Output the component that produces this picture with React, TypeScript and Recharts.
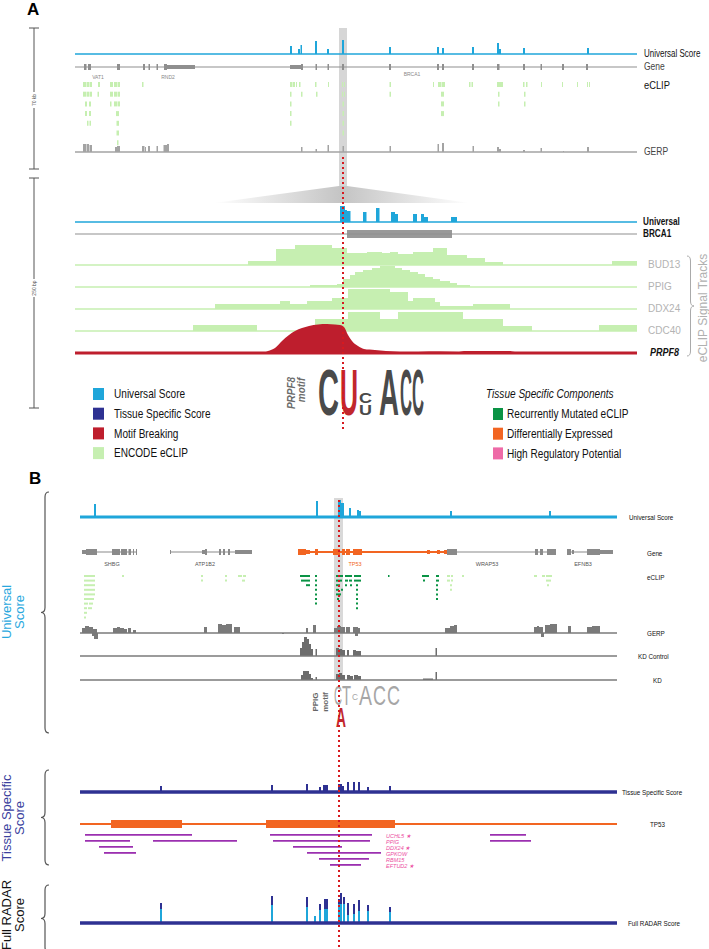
import React from 'react';
import { ComposedChart, Area, Line, XAxis, YAxis, ReferenceArea } from 'recharts';

// track positions; panel A spans 70 kb, panel B the TP53 locus
const A_DOM: [number, number] = [75, 637];
const B_DOM: [number, number] = [80, 617];

// ---- panel A, 70 kb view: [start, end, height]
const UNI_A = [[290, 292, 8], [298, 300, 5], [300.5, 302, 9], [315, 317, 13], [327, 329, 5], [342, 344, 14], [389, 391, 7], [437, 439, 7], [442, 444, 6], [472, 474, 7], [497, 499, 11], [499, 501, 5], [523, 525, 6], [587, 589, 6]];
// exon [start, end, coding(1)/utr(0)]
const GENE_A_EXONS = [[84, 86.5, 1], [88, 91, 1], [117, 120, 1], [143, 145, 1], [148.5, 150, 1], [156.5, 158, 1], [164, 167, 1], [167, 195, 0], [290, 301, 0], [301, 303, 1], [315.5, 317, 1], [327.5, 329, 1], [342, 344, 1], [389, 391, 1], [437, 439, 1], [442, 444, 1], [472, 474, 1], [497, 499.5, 1], [523, 525, 1], [540.5, 542, 1], [562, 564, 1], [586, 588, 1]];
const GENE_A_NAMES: [string, number][] = [['VAT1', 98], ['RND2', 168], ['BRCA1', 412]];
const ECLIP_A: number[][][] = [
  [[83, 86], [86.5, 89], [89.5, 92], [98, 100], [110, 113], [114, 117], [117.5, 120], [142, 143.5], [290, 292.5], [293, 295], [296, 297], [299, 300.5], [315, 316.5], [328, 329], [342, 343], [344, 345], [389.5, 391], [433, 434], [438, 441], [441.5, 445], [469, 470.5], [471.5, 473], [497, 503], [523, 524.5], [526, 527.5], [541, 542], [562, 563], [577, 578], [587, 588], [589, 590]],
  [[83, 86], [86.5, 89], [89.5, 92], [97.5, 99], [110, 113], [114, 117], [117.5, 120], [290, 291.5], [301, 302.5], [316, 317.5], [342, 343], [344, 345], [389.5, 391], [441, 444], [498, 499.5], [524, 525.5]],
  [[85, 87], [89, 91], [110, 111.5], [114, 117], [117.5, 120], [290, 291.5], [342.5, 344], [441, 444], [498, 499.5], [524, 525.5]],
  [[85, 87], [89, 91], [116, 119], [290, 291.5], [342.5, 344], [441, 444]],
  [[87, 88.5], [89.5, 91], [116.5, 119], [290, 291.5], [342.5, 344]],
  [[116.5, 119], [342.5, 344]],
  [[117, 118.5]],
];
const GERP_A = [[83, 86, 8], [86.5, 89, 8], [89.5, 92, 7], [115, 117, 5], [117, 120, 6], [142, 144.5, 6], [145, 146, 5], [148, 150, 6], [156.5, 158, 6], [163.5, 167, 7], [167, 169, 8], [301, 302.5, 5], [315.5, 317, 3], [327.5, 329, 7], [342.5, 344, 6], [389.5, 391, 6], [437.5, 439, 8], [442, 444, 9], [472.5, 474, 6], [497, 499, 5], [499, 501, 3], [523, 525, 2], [540.5, 542, 4], [563, 564, 1], [587, 589, 5]];

// ---- panel A, 250 bp view
const UNI_A2 = [[340, 345, 16], [345, 347, 12], [347, 350.5, 11], [363, 366.5, 10], [376, 379.5, 14], [391, 395, 10], [395, 398, 8], [413, 417, 8], [421, 424, 8], [424, 428, 5], [451, 457, 5]];
const BRCA1_BOX = [347, 452];
// bedGraph style: [position, signal]
const BUD13 = [[75, 0], [248, 4], [276, 16], [295, 20], [332, 17], [347, 12], [367, 13], [382, 12], [390, 13], [398, 11], [413, 13], [433, 17], [447, 10], [467, 7], [485, 3], [503, 0], [612, 4], [637, 4]];
const PPIG = [[75, 0], [310, 2], [337, 3], [343, 8], [350, 12], [355, 15], [363, 17], [372, 19], [380, 21], [395, 19], [402, 17], [410, 15], [418, 13], [425, 10], [433, 8], [440, 6], [450, 4], [457, 2], [470, 0], [637, 0]];
const DDX24 = [[75, 0], [215, 5], [280, 8], [290, 5], [307, 8], [332, 11], [348, 20], [390, 17], [408, 8], [413, 11], [435, 7], [440, 3], [473, 5], [510, 0], [637, 0]];
const CDC40 = [[75, 0], [193, 6], [257, 0], [315, 12], [348, 19], [380, 12], [398, 19], [463, 12], [503, 5], [532, 0], [599, 6], [637, 6]];
const PRPF8 = [[75, 0], [100, 1], [168, 1], [172, 0], [262, 0], [268, 2], [275, 5], [282, 12], [289, 18], [295, 22], [302, 25], [309, 27], [318, 28.5], [327, 29], [335, 28.5], [340, 28], [344, 26], [348, 18], [352, 12], [358, 7], [364, 4], [375, 3], [386, 2], [400, 1], [412, 0.5], [418, 1], [440, 1.5], [459, 1], [464, 2], [509, 2], [515, 1], [530, 0], [637, 0]];
const SIGNAL_TRACKS: [string, number[][]][] = [['BUD13', BUD13], ['PPIG', PPIG], ['DDX24', DDX24], ['CDC40', CDC40]];

// ---- panel B
const UNI_B = [[94, 96, 13], [316, 318, 16], [338, 341, 17], [341, 344, 14], [349, 351, 9], [357, 359, 7], [359, 361, 6], [450, 452, 6], [549, 551, 6]];
const GENES_B = [
  { name: 'SHBG', span: [82, 137], labelAt: 112, exons: [[82, 86, 0], [86, 97, 1], [112, 120, 1], [121, 127, 1], [128.5, 131, 1], [133, 134, 1], [136, 137, 1]] },
  { name: 'ATP1B2', span: [170, 252], labelAt: 205, exons: [[170, 171, 0], [202, 205, 0], [205, 207, 1], [219, 221, 1], [223, 225, 1], [228, 230, 1], [235, 252, 0]] },
  { name: 'TP53', span: [298, 447], labelAt: 355, exons: [[298, 306, 1], [306, 310, 0], [315, 318, 1], [333, 340, 1], [342, 345, 1], [346, 350, 1], [353, 362, 1], [427, 430, 0], [437, 440, 0], [444, 447, 0]] },
  { name: 'WRAP53', span: [447, 556], labelAt: 487, exons: [[447, 457, 1], [535, 538, 1], [540, 543, 1], [547, 556, 1]] },
  { name: 'EFNB3', span: [567, 613], labelAt: 583, exons: [[567, 571, 1], [572, 574, 0], [587, 600, 1], [600, 613, 0]] },
];
const FOCUS_GENE = 'TP53';
const ECLIP_B_OTHER: number[][][] = [
  [[84, 95], [122, 124], [201, 203], [225, 227], [238, 242], [243, 246], [447, 450], [451, 453], [462, 464], [534, 537], [542, 545], [546, 552]],
  [[84, 95], [201, 203], [225, 227], [242, 245], [447, 450], [451, 453], [546, 551]],
  [[84, 95], [450, 452], [547, 549]],
  [[84, 95], [450, 452]],
  [[84, 95]],
  [[84, 94]],
  [[84, 88], [89, 93]],
  [[84, 87], [88, 92]],
  [[84, 87]],
  [[84, 86]],
];
const ECLIP_B_MUT: number[][][] = [
  [[300, 310], [315, 317], [336, 343], [345, 352], [354, 361], [388, 389.5], [422, 429], [436, 439]],
  [[301, 310], [315, 317], [336, 342], [345, 348], [349, 352], [354, 361], [423, 425], [436, 439]],
  [[306, 310], [315, 317], [336, 340], [345, 347], [350, 352], [356, 358], [436, 438]],
  [[315, 317], [336, 339], [341, 343], [356, 358], [436, 438]],
  [[315, 317], [336, 341], [356, 358], [436, 438]],
  [[315, 317], [337, 339], [356, 358], [436, 438]],
  [[315, 317], [356, 358]],
  [[356, 358]],
];
const GERP_B_POS = [[82, 85, 5], [85, 89, 7], [89, 93, 6], [93, 97, 4], [113, 117, 5], [117, 120, 6], [120, 124, 5], [124, 127, 4], [128, 131, 5], [133, 136, 3], [204, 207, 6], [218, 222, 9], [222, 226, 8], [226, 232, 9], [234, 240, 6], [306, 308, 5], [313, 316, 8], [334, 337, 5], [337, 341, 7], [341, 345, 6], [346, 350, 6], [353, 358, 6], [358, 360, 5], [445, 450, 5], [450, 454, 7], [454, 457, 8], [534, 537, 6], [537, 539, 7], [539, 543, 6], [545, 550, 8], [550, 557, 9], [568, 571, 7], [587, 592, 6], [592, 600, 7]];
const GERP_B_NEG = [[92, 94, -3], [94, 98, -6], [282, 284, -1], [355, 358, -3], [541, 544, -4]];
const KD_CONTROL = [[300, 302, 8], [302, 304, 14], [304, 307, 19], [307, 309, 17], [309, 311, 12], [311, 313, 7], [315.5, 317, 7], [336, 339, 8], [339, 342, 7], [342, 345, 6], [347, 349, 6], [353, 356, 6], [356, 358, 5], [358, 361, 5], [435.5, 437, 8]];
const KD = [[301, 303, 5], [303, 306, 9], [306, 309, 9], [309, 311, 6], [311, 313, 2], [315.5, 317, 3], [336, 339, 6], [339, 342, 7], [342, 345, 5], [347, 350, 5], [350, 353, 4], [354, 358, 5], [358, 361, 4], [423, 433, 1.5], [435.5, 437, 8]];
const TISSUE = [[160, 162, 6], [271, 273, 7], [306, 308, 8], [319, 321, 5], [323, 328, 7], [338, 342, 8], [342, 344, 6], [347, 349, 10], [353, 355, 10], [358, 360, 10], [367, 369, 5], [389, 391, 6]];
const TP53_BLOCKS = [[111, 182], [266, 395]];
const RBP_NAMES = ['UCHL5', 'PPIG', 'DDX24', 'GPKOW', 'RBM15', 'EFTUD2'];
const RBP_STARRED = ['UCHL5', 'DDX24', 'EFTUD2'];
const RBP_PEAKS: number[][][] = [
  [[85, 192], [270, 372], [490, 526]],
  [[85, 130], [153, 237], [273, 370], [490, 531]],
  [[99, 133], [293, 342]],
  [[104, 136], [307, 381]],
  [[319, 369]],
  [[330, 361]],
];
const RADAR_TOTAL = [[160, 162, 20], [271, 273, 27], [306, 308, 26], [314, 316, 7], [319, 321, 19], [324, 328, 24], [338, 340, 24], [340, 342, 30], [343, 345, 26], [347, 349, 20], [353, 355, 19], [358, 360, 23], [367, 369, 18], [389, 391, 16]];
const RADAR_UNIVERSAL = [[160, 162, 14], [271, 273, 18], [306, 308, 16], [314, 316, 7], [319, 321, 13], [324, 328, 14], [338, 340, 19], [340, 342, 19], [343, 345, 19], [347, 349, 8], [353, 355, 9], [358, 360, 12], [367, 369, 12], [389, 391, 11]];

const LEGEND_LEFT: [string, string][] = [['Universal Score', '#1fa6da'], ['Tissue Specific Score', '#2e3192'], ['Motif Breaking', '#be1e2d'], ['ENCODE eCLIP', '#c6efb1']];
const LEGEND_RIGHT: [string, string][] = [['Recurrently Mutated eCLIP', '#0a9345'], ['Differentially Expressed', '#f26522'], ['High Regulatory Potential', '#ee6aa7']];

const CYAN = '#1fa6da';
const NAVY = '#2e3192';
const RED = '#be1e2d';
const LGREEN = '#c6efb1';
const DGREEN = '#0a9345';
const ORANGE = '#f26522';
const PURPLE = '#9b30b0';
const GRAY = '#a3a3a3';
const DGRAY = '#7a7a7a';
const SANS = '"Liberation Sans",Arial,sans-serif';

function toSteps(iv: number[][], dom: [number, number]) {
  const pts = [{ x: dom[0], v: 0 }];
  iv.forEach(([a, b, h]) => pts.push({ x: a, v: h }, { x: b, v: 0 }));
  pts.push({ x: dom[1], v: 0 });
  return pts;
}
const pairs = (p: number[][]) => p.map(([x, v]) => ({ x, v }));

function Track({ dom, base, up, down, children }: any) {
  const width = dom[1] - dom[0];
  return (
    <div style={{ position: 'absolute', left: dom[0], top: base - up, width, height: up + down }}>
      <ComposedChart width={width} height={up + down} margin={{ top: 0, right: 0, bottom: 0, left: 0 }}>
        <XAxis type="number" dataKey="x" domain={dom} hide allowDataOverflow />
        <YAxis type="number" domain={[-down, up]} hide allowDataOverflow />
        {children}
      </ComposedChart>
    </div>
  );
}

const baseline = (dom: number[], color: string, w: number) => (
  <Line key="base" data={[{ x: dom[0], v: 0 }, { x: dom[1], v: 0 }]} dataKey="v" stroke={color} strokeWidth={w} dot={false} isAnimationActive={false} />
);
const steps = (key: string, pts: any[], color: string, type: any = 'stepAfter') => (
  <Area key={key} data={pts} dataKey="v" type={type} stroke="none" fill={color} fillOpacity={1} baseValue={0} isAnimationActive={false} />
);
const rowBlocks = (key: string, rows: number[][][], pitch: number, thick: number, color: string) =>
  rows.flatMap((row, i) => row.map(([a, b], j) => (
    <ReferenceArea key={`${key}${i}-${j}`} x1={a} x2={b} y1={-i * pitch} y2={-i * pitch - thick} fill={color} fillOpacity={1} stroke="none" />
  )));
const exonBlocks = (key: string, exons: number[][], color: string) =>
  exons.map(([a, b, coding], j) => (
    <ReferenceArea key={`${key}${j}`} x1={a} x2={b} y1={coding ? -3 : -2} y2={coding ? 3 : 2} fill={color} fillOpacity={1} stroke="none" />
  ));

function Glyph({ ch, x, bottom, w, h, color, bold = true }: any) {
  return (
    <text x={x} y={bottom} fontSize={h / 0.72} fontFamily={SANS} fontWeight={bold ? 'bold' : 'normal'} fill={color} textLength={w} lengthAdjust="spacingAndGlyphs">{ch}</text>
  );
}

function brace(xa: number, xt: number, y1: number, y2: number) {
  const xb = (xa + xt) / 2, m = (y1 + y2) / 2, r = 5;
  return `M${xa} ${y1} Q${xb} ${y1} ${xb} ${y1 + r} L${xb} ${m - r} Q${xb} ${m} ${xt} ${m} Q${xb} ${m} ${xb} ${m + r} L${xb} ${y2 - r} Q${xb} ${y2} ${xa} ${y2}`;
}

// sx < 1 squeezes the text horizontally to mimic the condensed face of the figure
function T({ x, y, s, size = 10, fill = '#111', weight = 'normal', italic = false, anchor = 'start', sx = 1 }: any) {
  return (
    <text transform={`translate(${x},${y}) scale(${sx},1)`} fontSize={size} fill={fill} fontFamily={SANS} fontWeight={weight} fontStyle={italic ? 'italic' : 'normal'} textAnchor={anchor} dominantBaseline="central">{s}</text>
  );
}

function Rot({ x, y, s, size, fill, weight = 'normal', italic = false }: any) {
  return (
    <text transform={`translate(${x},${y}) rotate(-90)`} fontSize={size} fill={fill} fontFamily={SANS} fontWeight={weight} fontStyle={italic ? 'italic' : 'normal'} textAnchor="middle">{s}</text>
  );
}

export default function App() {
  return (
    <div style={{ position: 'absolute', left: 0, top: 0, width: 709, height: 949, background: '#fff', overflow: 'hidden' }}>
      {/* highlight band and zoom wedge, behind the tracks */}
      <svg width={709} height={949} style={{ position: 'absolute', left: 0, top: 0 }}>
        <defs>
          <linearGradient id="wedge" x1="0" x2="1" y1="0" y2="0">
            <stop offset="0" stopColor="#ffffff" />
            <stop offset="0.5" stopColor="#c4c4c4" />
            <stop offset="1" stopColor="#ffffff" />
          </linearGradient>
        </defs>
        <rect x={339} y={28} width={8} height={160} fill="#d6d6d6" />
        <polygon points="339,186 347,186 470,203 214,203" fill="url(#wedge)" />
        <rect x={334} y={498} width={9} height={182} fill="#d9d9d9" />
      </svg>

      {/* panel A, 70 kb */}
      <Track dom={A_DOM} base={54} up={16} down={1.5}>
        {steps('u', toSteps(UNI_A, A_DOM), CYAN)}
        {baseline(A_DOM, CYAN, 1.6)}
      </Track>
      <Track dom={A_DOM} base={67} up={4} down={4}>
        {baseline(A_DOM, '#8f8f8f', 1.2)}
        {exonBlocks('ga', GENE_A_EXONS, '#8f8f8f')}
      </Track>
      <Track dom={A_DOM} base={81.5} up={0} down={66}>
        {baseline([A_DOM[0], A_DOM[0] + 0.1], '#fff', 0)}
        {rowBlocks('ea', ECLIP_A, 9.7, 5, LGREEN)}
      </Track>
      <Track dom={A_DOM} base={152} up={10} down={1.5}>
        {steps('g', toSteps(GERP_A, A_DOM), GRAY)}
        {baseline(A_DOM, GRAY, 1.6)}
      </Track>

      {/* panel A, 250 bp */}
      <Track dom={A_DOM} base={222} up={17} down={1.5}>
        {steps('u2', toSteps(UNI_A2, A_DOM), CYAN)}
        {baseline(A_DOM, CYAN, 1.6)}
      </Track>
      <Track dom={A_DOM} base={234} up={5} down={5}>
        {baseline(A_DOM, '#8f8f8f', 1)}
        <ReferenceArea x1={BRCA1_BOX[0]} x2={BRCA1_BOX[1]} y1={-4} y2={4} fill="#999" fillOpacity={1} stroke="none" />
      </Track>
      {SIGNAL_TRACKS.map(([name, d], i) => (
        <Track key={name} dom={A_DOM} base={265 + i * 22} up={22} down={1.5}>
          {steps(name, pairs(d), LGREEN)}
          {baseline(A_DOM, LGREEN, 1.6)}
        </Track>
      ))}
      <Track dom={A_DOM} base={353} up={31} down={2}>
        {steps('prpf8', pairs(PRPF8), RED, 'monotone')}
        {baseline(A_DOM, RED, 3)}
      </Track>

      {/* panel B */}
      <Track dom={B_DOM} base={517} up={18} down={2}>
        {steps('ub', toSteps(UNI_B, B_DOM), CYAN)}
        {baseline(B_DOM, CYAN, 3)}
      </Track>
      <Track dom={B_DOM} base={552} up={5} down={5}>
        {GENES_B.map((g) => (
          <Line key={g.name} data={[{ x: g.span[0], v: 0 }, { x: g.span[1], v: 0 }]} dataKey="v" stroke={g.name === FOCUS_GENE ? ORANGE : '#8a8a8a'} strokeWidth={g.name === FOCUS_GENE ? 1.8 : 1.2} dot={false} isAnimationActive={false} />
        ))}
        {GENES_B.flatMap((g) => exonBlocks(g.name, g.exons, g.name === FOCUS_GENE ? ORANGE : '#8a8a8a'))}
      </Track>
      <Track dom={B_DOM} base={575} up={0} down={46}>
        {baseline([B_DOM[0], B_DOM[0] + 0.1], '#fff', 0)}
        {rowBlocks('eo', ECLIP_B_OTHER, 4.6, 2, LGREEN)}
        {rowBlocks('em', ECLIP_B_MUT, 4.6, 2, DGREEN)}
      </Track>
      <Track dom={B_DOM} base={633} up={10} down={7}>
        {steps('gp', toSteps(GERP_B_POS, B_DOM), DGRAY)}
        {steps('gn', toSteps(GERP_B_NEG, B_DOM), DGRAY)}
        {baseline(B_DOM, DGRAY, 1.6)}
      </Track>
      <Track dom={B_DOM} base={656} up={20} down={1.5}>
        {steps('kc', toSteps(KD_CONTROL, B_DOM), '#6d6d6d')}
        {baseline(B_DOM, DGRAY, 1.6)}
      </Track>
      <Track dom={B_DOM} base={680} up={10} down={1.5}>
        {steps('kd', toSteps(KD, B_DOM), '#6d6d6d')}
        {baseline(B_DOM, DGRAY, 1.6)}
      </Track>
      <Track dom={B_DOM} base={792} up={11} down={2}>
        {steps('ts', toSteps(TISSUE, B_DOM), NAVY)}
        {baseline(B_DOM, NAVY, 3.5)}
      </Track>
      <Track dom={B_DOM} base={824} up={5} down={5}>
        {baseline(B_DOM, ORANGE, 1.8)}
        {TP53_BLOCKS.map(([a, b], j) => (
          <ReferenceArea key={`tp${j}`} x1={a} x2={b} y1={-4} y2={4} fill={ORANGE} fillOpacity={1} stroke="none" />
        ))}
      </Track>
      <Track dom={B_DOM} base={834} up={0} down={34}>
        {baseline([B_DOM[0], B_DOM[0] + 0.1], '#fff', 0)}
        {rowBlocks('rbp', RBP_PEAKS, 6, 1.8, PURPLE)}
      </Track>
      <Track dom={B_DOM} base={923} up={31} down={2.5}>
        {steps('rt', toSteps(RADAR_TOTAL, B_DOM), NAVY)}
        {steps('ru', toSteps(RADAR_UNIVERSAL, B_DOM), CYAN)}
        {baseline(B_DOM, NAVY, 3.5)}
      </Track>

      {/* text, brackets and guides on top */}
      <svg width={709} height={949} style={{ position: 'absolute', left: 0, top: 0, pointerEvents: 'none' }}>
        <T x={27} y={9} s="A" size={17} weight="bold" fill="#000" />
        <T x={29} y={478} s="B" size={17} weight="bold" fill="#000" />

        {/* scale bars */}
        <g stroke="#555" strokeWidth={1}>
          <line x1={34} x2={34} y1={28} y2={169} />
          <line x1={29} x2={39} y1={28} y2={28} />
          <line x1={29} x2={39} y1={169} y2={169} />
          <line x1={34} x2={34} y1={178} y2={408} />
          <line x1={29} x2={39} y1={178} y2={178} />
          <line x1={29} x2={39} y1={408} y2={408} />
        </g>
        <rect x={31} y={92} width={6} height={16} fill="#fff" />
        <rect x={31} y={279} width={6} height={18} fill="#fff" />
        <Rot x={36} y={100} s="70 kb" size={5} fill="#555" />
        <Rot x={36} y={288} s="250 bp" size={5} fill="#555" />

        {/* panel A labels */}
        <T x={644} y={54} s="Universal Score" size={10} sx={0.8} />
        <T x={644} y={67} s="Gene" size={10} fill="#444" sx={0.85} />
        <T x={644} y={85} s="eCLIP" size={11} sx={0.85} />
        <T x={644} y={152} s="GERP" size={10} fill="#444" sx={0.85} />
        {GENE_A_NAMES.map(([n, p]) => (
          <T key={n} x={p} y={n === 'BRCA1' ? 74 : 77} s={n} size={5} fill="#888" anchor="middle" />
        ))}
        <T x={643} y={222} s="Universal" size={10} weight="bold" sx={0.82} />
        <T x={643} y={234} s="BRCA1" size={10} weight="bold" sx={0.82} />
        {SIGNAL_TRACKS.map(([n], i) => (
          <T key={n} x={648} y={264 + i * 22} s={n} size={10} fill="#b3b3b3" />
        ))}
        <T x={650} y={352} s="PRPF8" size={10} weight="bold" italic sx={0.9} />
        <path d={brace(687, 694, 256, 356)} fill="none" stroke="#aaa" strokeWidth={1} />
        <Rot x={707} y={308} s="eCLIP Signal Tracks" size={12} fill="#b0b0b0" />

        {/* PRPF8 motif logo */}
        <Rot x={295} y={393} s="PRPF8" size={10} fill="#6b6b6b" weight="bold" italic />
        <Rot x={305} y={390} s="motif" size={10} fill="#6b6b6b" weight="bold" italic />
        <Glyph ch="C" x={318} bottom={415} w={21} h={47} color="#4a4a4a" />
        <Glyph ch="U" x={340} bottom={415} w={18} h={47} color="#c1272d" />
        <Glyph ch="C" x={359} bottom={403} w={13} h={10} color="#4a4a4a" />
        <Glyph ch="U" x={359} bottom={415} w={13} h={10} color="#4a4a4a" />
        <Glyph ch="A" x={379} bottom={415} w={20} h={47} color="#4a4a4a" />
        <Glyph ch="C" x={400} bottom={415} w={12} h={47} color="#4a4a4a" />
        <Glyph ch="C" x={412} bottom={415} w={12} h={47} color="#4a4a4a" />

        {/* legend */}
        {LEGEND_LEFT.map(([n, c], i) => (
          <g key={n}>
            <rect x={93} y={388 + i * 19.7} width={11} height={12} fill={c} />
            <T x={114} y={394 + i * 19.7} s={n} size={12} sx={0.84} />
          </g>
        ))}
        <T x={486} y={394} s="Tissue Specific Components" size={12} italic sx={0.84} />
        {LEGEND_RIGHT.map(([n, c], i) => (
          <g key={n}>
            <rect x={493} y={408 + i * 19.7} width={10} height={12} fill={c} />
            <T x={507} y={414 + i * 19.7} s={n} size={12} sx={0.84} />
          </g>
        ))}

        {/* panel B labels */}
        <T x={629} y={517} s="Universal Score" size={7} sx={0.9} />
        <T x={647} y={553} s="Gene" size={7} sx={0.9} />
        <T x={647} y={577} s="eCLIP" size={7} sx={0.9} />
        <T x={647} y={633} s="GERP" size={7} sx={0.9} />
        <T x={638} y={656} s="KD Control" size={7} sx={0.9} />
        <T x={653} y={680} s="KD" size={7} sx={0.9} />
        <T x={622} y={792} s="Tissue Specific Score" size={7} sx={0.9} />
        <T x={650} y={824} s="TP53" size={7} sx={0.9} />
        <T x={628} y={923} s="Full RADAR Score" size={7} sx={0.9} />
        {GENES_B.map((g) => (
          <T key={g.name} x={g.labelAt} y={564} s={g.name} size={5.5} anchor="middle" fill={g.name === FOCUS_GENE ? ORANGE : '#555'} />
        ))}
        {RBP_NAMES.map((n, i) => (
          <T key={n} x={386} y={835.5 + i * 6} s={RBP_STARRED.includes(n) ? `${n} ★` : n} size={5.5} italic fill="#ec4f9f" />
        ))}

        {/* PPIG motif */}
        <Rot x={318} y={702} s="PPIG" size={8} fill="#666" weight="bold" />
        <Rot x={328} y={702} s="motif" size={8} fill="#666" weight="bold" />
        <Glyph ch="C" x={334} bottom={705} w={8} h={20} color="#a6a6a6" bold={false} />
        <Glyph ch="T" x={342} bottom={705} w={9} h={20} color="#a6a6a6" bold={false} />
        <Glyph ch="C" x={352} bottom={700} w={6} h={7} color="#a6a6a6" bold={false} />
        <Glyph ch="A" x={359} bottom={705} w={13} h={20} color="#a6a6a6" bold={false} />
        <Glyph ch="C" x={373} bottom={705} w={13} h={20} color="#a6a6a6" bold={false} />
        <Glyph ch="C" x={387} bottom={705} w={13} h={20} color="#a6a6a6" bold={false} />
        <Glyph ch="A" x={336} bottom={727} w={10} h={20} color="#c1272d" />

        {/* left brackets */}
        <g fill="none" stroke="#555" strokeWidth={1.2}>
          <path d={brace(49, 41, 492, 733)} />
          <path d={brace(49, 41, 770, 865)} />
          <path d={brace(49, 41, 885, 952)} />
        </g>
        <Rot x={11} y={612} s="Universal" size={13} fill="#29a8de" />
        <Rot x={24} y={612} s="Score" size={13} fill="#29a8de" />
        <Rot x={11} y={818} s="Tissue Specific" size={13} fill="#3a3f9e" />
        <Rot x={24} y={818} s="Score" size={13} fill="#3a3f9e" />
        <Rot x={11} y={915} s="Full RADAR" size={13} fill="#111" />
        <Rot x={24} y={915} s="Score" size={13} fill="#111" />

        {/* red dotted variant guides */}
        <line x1={343} x2={343} y1={157} y2={432} stroke="#d7191f" strokeWidth={2} strokeDasharray="2 3" />
        <line x1={339} x2={339} y1={500} y2={947} stroke="#d7191f" strokeWidth={2} strokeDasharray="2 3" />
      </svg>
    </div>
  );
}
